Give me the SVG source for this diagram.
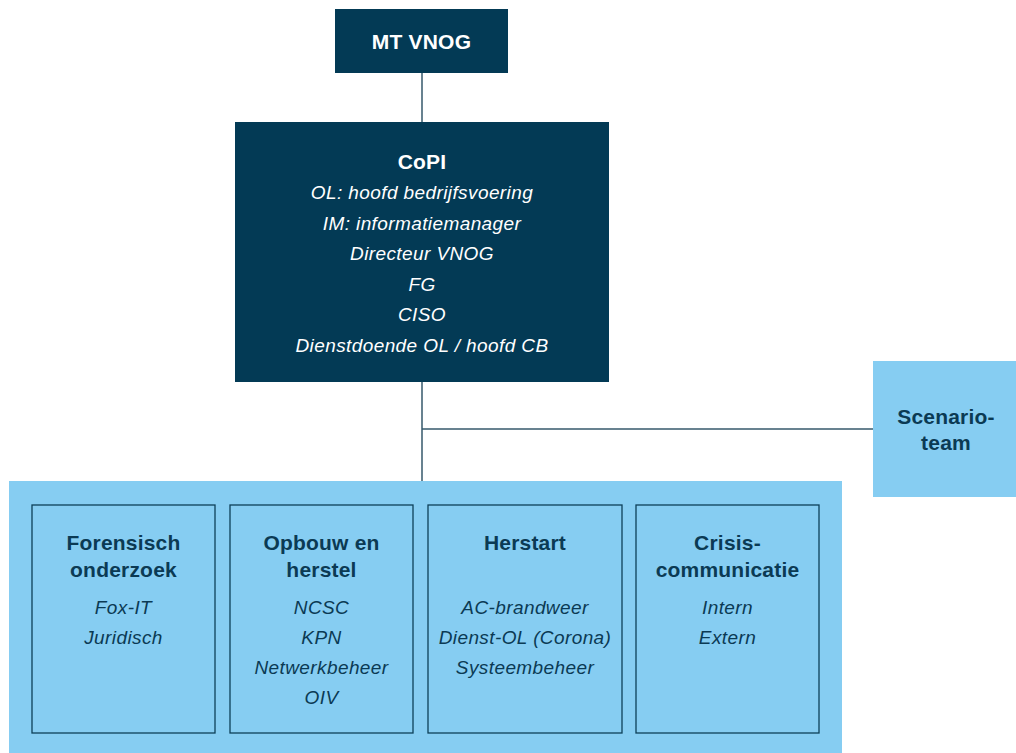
<svg xmlns="http://www.w3.org/2000/svg" width="1016" height="753" viewBox="0 0 1016 753">
<style>
.dark{fill:#033a55}
.light{fill:#86cdf2}
.inner{fill:#86cdf2;stroke:#0d3f58;stroke-width:1.3}
.conn{stroke:#36586b;stroke-width:1.5;fill:none}
.tw{font-family:"Liberation Sans",Arial,sans-serif;fill:#ffffff;text-anchor:middle}
.td{font-family:"Liberation Sans",Arial,sans-serif;fill:#0b3a54;text-anchor:middle}
.b{font-weight:bold;font-size:21px;letter-spacing:0.2px}
.i{font-style:italic;font-size:19px;letter-spacing:0.4px}
</style>
<rect width="1016" height="753" fill="#ffffff"/>
<g id="connectors">
<line class="conn" x1="422" y1="73" x2="422" y2="122"/>
<line class="conn" x1="422" y1="382" x2="422" y2="481"/>
<line class="conn" x1="422" y1="429" x2="873" y2="429"/>
</g>
<g id="mt-vnog">
<rect class="dark" x="335" y="9" width="173" height="64"/>
<text class="tw b" x="421.5" y="49">MT VNOG</text>
</g>
<g id="copi">
<rect class="dark" x="235" y="122" width="374" height="260"/>
<text class="tw b" x="422" y="169">CoPI</text>
<text class="tw i" x="422" y="199">OL: hoofd bedrijfsvoering</text>
<text class="tw i" x="422" y="230">IM: informatiemanager</text>
<text class="tw i" x="422" y="260">Directeur VNOG</text>
<text class="tw i" x="422" y="291">FG</text>
<text class="tw i" x="422" y="321">CISO</text>
<text class="tw i" x="422" y="352">Dienstdoende OL / hoofd CB</text>
</g>
<g id="scenario-team">
<rect class="light" x="873" y="361" width="143" height="136"/>
<text class="td b" x="946" y="424">Scenario-</text>
<text class="td b" x="946" y="450">team</text>
</g>
<g id="teams">
<rect class="light" x="9" y="481" width="833" height="272"/>
</g>
<g id="forensisch">
<rect class="inner" x="32" y="505" width="183" height="228"/>
<text class="td b" x="123.5" y="550">Forensisch</text>
<text class="td b" x="123.5" y="577">onderzoek</text>
<text class="td i" x="123.5" y="614">Fox-IT</text>
<text class="td i" x="123.5" y="644">Juridisch</text>
</g>
<g id="opbouw">
<rect class="inner" x="230" y="505" width="183" height="228"/>
<text class="td b" x="321.5" y="550">Opbouw en</text>
<text class="td b" x="321.5" y="577">herstel</text>
<text class="td i" x="321.5" y="614">NCSC</text>
<text class="td i" x="321.5" y="644">KPN</text>
<text class="td i" x="321.5" y="674">Netwerkbeheer</text>
<text class="td i" x="321.5" y="704">OIV</text>
</g>
<g id="herstart">
<rect class="inner" x="428" y="505" width="194" height="228"/>
<text class="td b" x="525" y="550">Herstart</text>
<text class="td i" x="525" y="614">AC-brandweer</text>
<text class="td i" x="525" y="644">Dienst-OL (Corona)</text>
<text class="td i" x="525" y="674">Systeembeheer</text>
</g>
<g id="crisis">
<rect class="inner" x="636" y="505" width="183" height="228"/>
<text class="td b" x="727.5" y="550">Crisis-</text>
<text class="td b" x="727.5" y="577">communicatie</text>
<text class="td i" x="727.5" y="614">Intern</text>
<text class="td i" x="727.5" y="644">Extern</text>
</g>
</svg>
